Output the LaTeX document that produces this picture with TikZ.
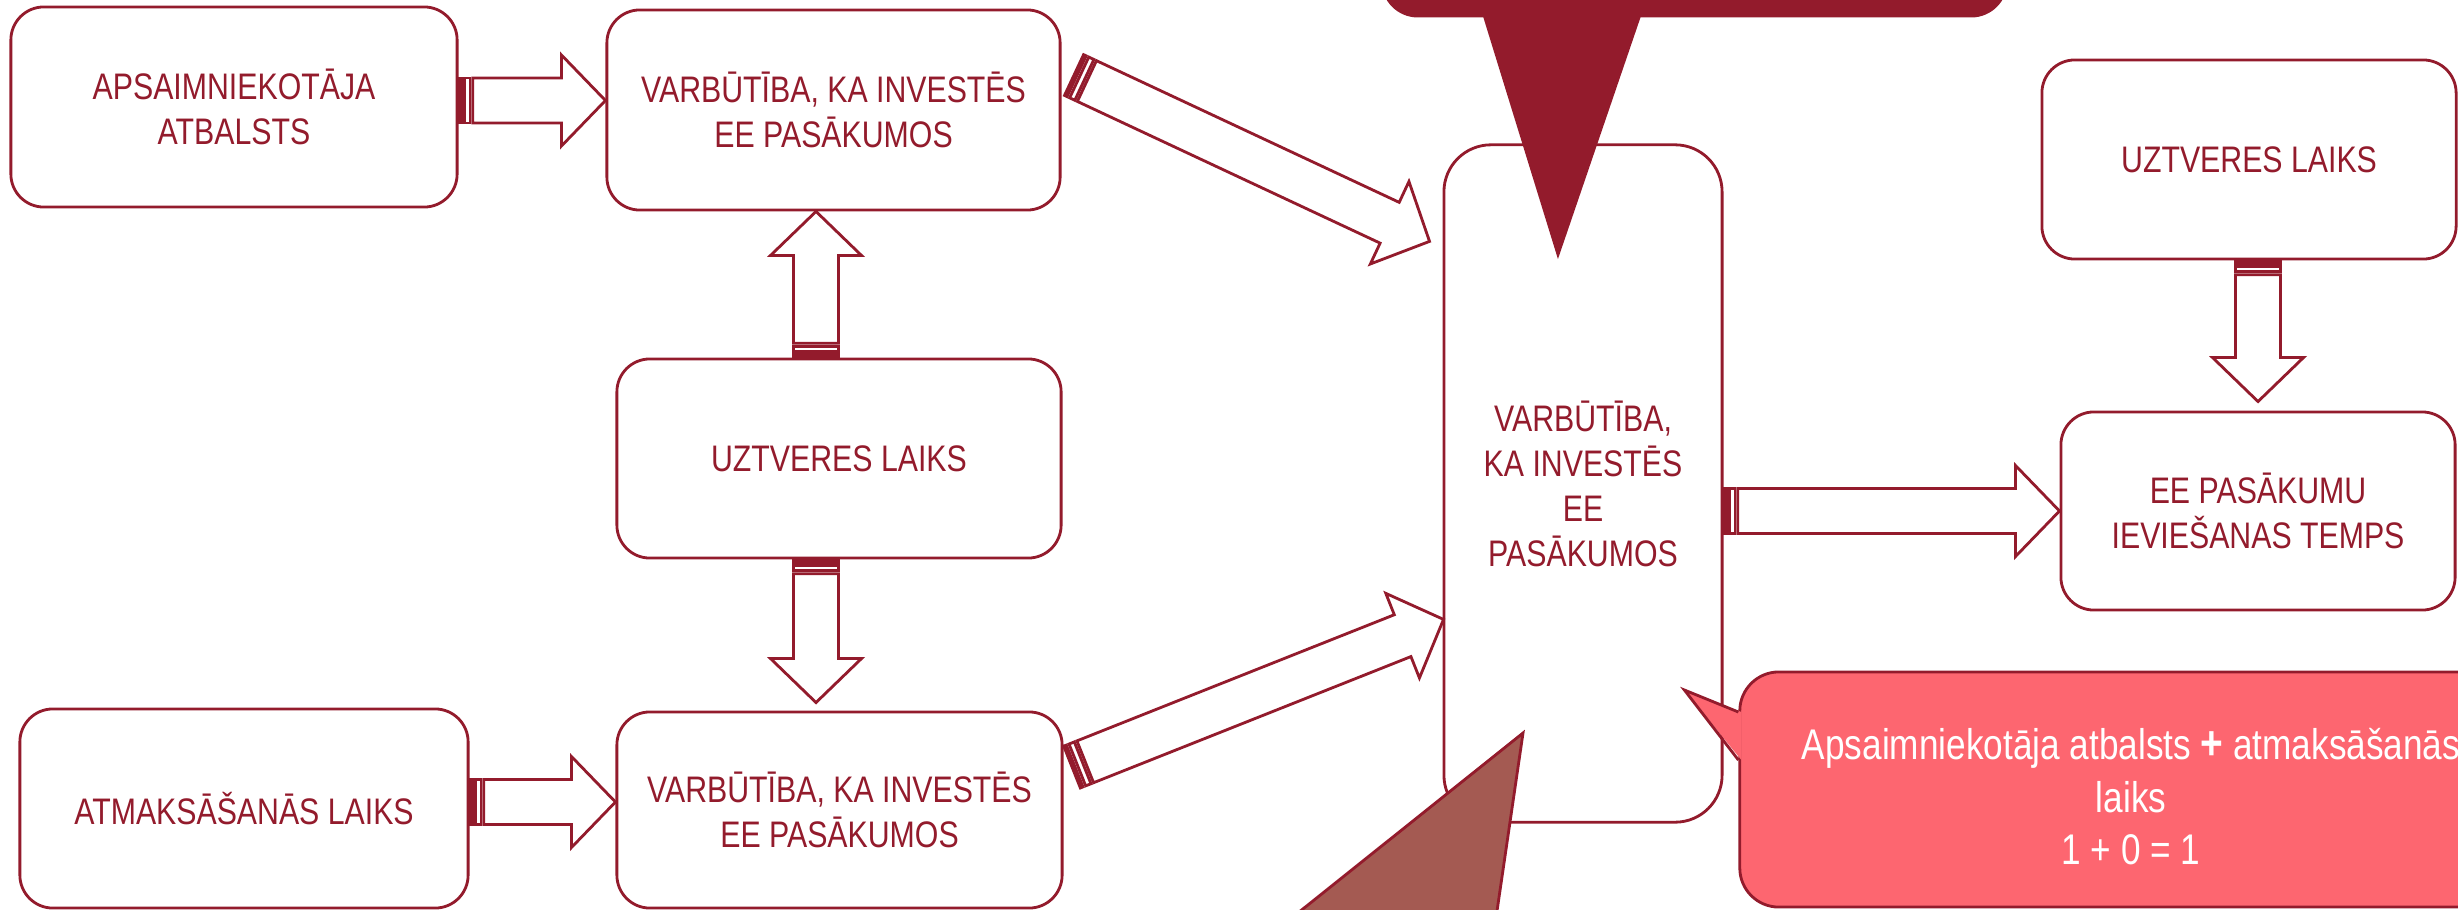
\documentclass[tikz,border=0pt]{standalone}
\usepackage{fontspec}
\setmainfont{Liberation Sans}
\newfontfamily\narrowfont[FakeStretch=0.82]{Liberation Sans}
\usetikzlibrary{calc}
\definecolor{dr}{HTML}{931B2C}
\definecolor{brownf}{HTML}{A45A52}
\definecolor{pinkf}{HTML}{FD6670}
\newcommand\boxfont{\narrowfont\fontsize{10.5pt}{12.8pt}\selectfont}
\newcommand\pinkfont{\narrowfont\fontsize{12.2pt}{14.94pt}\selectfont}
\newcommand\sarrow[2]{%
  \coordinate (sa-t) at (#1);
  \coordinate (sa-p) at (#2);
  \coordinate (sa-b) at ($(sa-p)!0.44cm!(sa-t)$);
  \coordinate (sa-0) at ($(sa-t)!0.142cm!(sa-p)$);
  \coordinate (sa-1) at ($(sa-t)!0.028cm!(sa-p)$);
  \coordinate (sa-2) at ($(sa-t)!0.057cm!(sa-p)$);
  \coordinate (sa-3) at ($(sa-t)!0.114cm!(sa-p)$);
  \draw[blockarrow] ($(sa-0)!0.225cm!90:(sa-p)$) -- ($(sa-b)!0.225cm!90:(sa-p)$) -- ($(sa-b)!0.455cm!90:(sa-p)$) -- (sa-p) -- ($(sa-b)!0.455cm!-90:(sa-p)$) -- ($(sa-b)!0.225cm!-90:(sa-p)$) -- ($(sa-0)!0.225cm!-90:(sa-p)$) -- cycle;
  \draw[blockarrow] ($(sa-t)!0.225cm!90:(sa-p)$) -- ($(sa-1)!0.225cm!90:(sa-p)$) -- ($(sa-1)!0.225cm!-90:(sa-p)$) -- ($(sa-t)!0.225cm!-90:(sa-p)$) -- cycle;
  \draw[blockarrow] ($(sa-2)!0.225cm!90:(sa-p)$) -- ($(sa-3)!0.225cm!90:(sa-p)$) -- ($(sa-3)!0.225cm!-90:(sa-p)$) -- ($(sa-2)!0.225cm!-90:(sa-p)$) -- cycle;
}
\tikzset{
  box/.style={draw=dr, line width=0.8pt, rounded corners=0.33cm, fill=white, text=dr,
    align=center, font=\boxfont, inner sep=0pt},
  blockarrow/.style={draw=dr, fill=white, line width=0.8pt, line join=miter},
}
\begin{document}
\begin{tikzpicture}[x=0.01cm, y=0.01cm]
\useasboundingbox (0,0) rectangle (2458,-909);
\clip (0,0) rectangle (2458,-909);

% boxes
\node[box, minimum width=4.46cm, minimum height=2.00cm] (A) at (234,-107) {APSAIMNIEKOTĀJA\\ATBALSTS};
\node[box, minimum width=4.53cm, minimum height=2.00cm] (B) at (833.5,-110) {VARBŪTĪBA, KA INVESTĒS\\EE PASĀKUMOS};
\node[box, minimum width=4.44cm, minimum height=1.99cm] (C) at (839,-458.5) {UZTVERES LAIKS};
\node[box, minimum width=4.48cm, minimum height=1.99cm] (D) at (244,-808.5) {ATMAKSĀŠANĀS LAIKS};
\node[box, minimum width=4.45cm, minimum height=1.96cm] (E) at (839.5,-810) {VARBŪTĪBA, KA INVESTĒS\\EE PASĀKUMOS};
\node[box, rounded corners=0.47cm, minimum width=2.78cm, minimum height=6.77cm] (F) at (1583,-483.5) {VARBŪTĪBA,\\KA INVESTĒS\\EE\\PASĀKUMOS};
\node[box, minimum width=4.14cm, minimum height=1.99cm] (G) at (2249,-159.5) {UZTVERES LAIKS};
\node[box, minimum width=3.94cm, minimum height=1.98cm] (H) at (2258,-511) {EE PASĀKUMU\\IEVIEŠANAS TEMPS};

% connectors
\coordinate (t1) at ($(A.east)+(0,6.5)$);
\sarrow{t1}{B.west |- t1}
\coordinate (t2) at ($(C.north)+(-23,0)$);
\sarrow{t2}{B.south -| t2}
\coordinate (t3) at ($(C.south)+(-23,0)$);
\coordinate (p3) at ($(E.north -| t3)+(0,8)$);
\sarrow{t3}{p3}
\coordinate (t4) at ($(D.east)+(0,6.5)$);
\sarrow{t4}{E.west |- t4}
\coordinate (t5) at ($(B.north east)+(12.5,-66.5)$);
\coordinate (p5) at ($(F.north west)+(-13,-98)$);
\sarrow{t5}{p5}
\coordinate (t6) at ($(E.north east)+(8.5,-56.5)$);
\coordinate (p6) at ($(F.north west)+(1,-476)$);
\sarrow{t6}{p6}
\coordinate (t7) at (F.east |- H.west);
\sarrow{t7}{H.west}
\coordinate (t8) at (G.south -| H.north);
\coordinate (p8) at ($(H.north)+(0,9)$);
\sarrow{t8}{p8}

% top callout
\node[draw=dr, fill=dr, line width=0.8pt, rounded corners=0.35cm, minimum width=6.23cm, minimum height=3cm, inner sep=0pt] (Q) at (1694.5,134) {};
\filldraw[draw=dr, fill=dr, line width=0.8pt] ($(Q.south)+(-211.5,6)$) -- ($(Q.south)+(-136.5,-237)$) -- ($(Q.south)+(-53.5,6)$) -- cycle;

% brown triangle
\filldraw[draw=dr, fill=brownf, line width=0.8pt, line join=miter] (1523,-733) -- (1189,-1000) -- (1484,-1000) -- cycle;

% pink callout
\node[draw=dr, fill=pinkf, line width=0.8pt, rounded corners=0.39cm, minimum width=7.82cm, minimum height=2.35cm, inner sep=0pt] (PK) at (2131,-789.5) {};
\fill[pinkf] ($(PK.west)+(3,77.5)$) -- ($(PK.west)+(-54,99.5)$) -- ($(PK.west)+(3,29.5)$) -- cycle;
\draw[dr, line width=0.8pt, line join=miter] ($(PK.west)+(0,77.5)$) -- ($(PK.west)+(-54,99.5)$) -- ($(PK.west)+(0,29.5)$);
\node[text=white, align=center, font=\pinkfont, inner sep=0pt] (PT) at (2131,-797) {Apsaimniekotāja atbalsts {\bfseries\fontsize{13.5pt}{14pt}\selectfont +} atmaksāšanās\\laiks\\1 + 0 = 1};
\end{tikzpicture}
\end{document}
